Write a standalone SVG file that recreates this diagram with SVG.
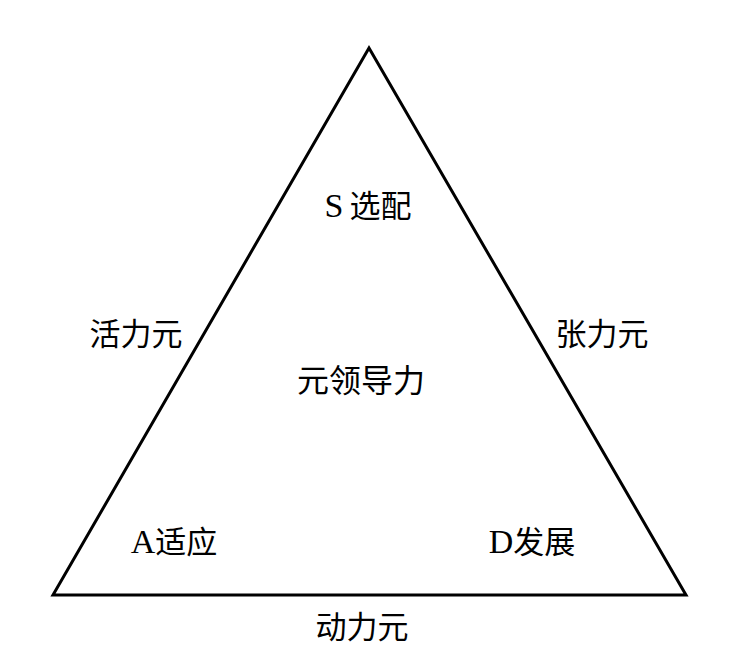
<svg xmlns="http://www.w3.org/2000/svg" width="741" height="645" viewBox="0 0 741 645">
<style>
.t{font-family:"Liberation Serif","Noto Sans CJK SC",serif;font-size:31px;fill:#000;text-anchor:middle}
.l{font-size:34px}
.edge{fill:none;stroke:#000;stroke-width:3;stroke-linejoin:miter}
</style>
<rect width="741" height="645" fill="#fff"/>
<g id="connectors">
<polygon class="edge" points="369,48 53,595 686,595"/>
</g>
<g id="node-s"><text class="t" x="368" y="217"><tspan class="l">S</tspan><tspan dx="6">选配</tspan></text></g>
<g id="node-left"><text class="t" x="136" y="345">活力元</text></g>
<g id="node-right"><text class="t" x="602" y="345">张力元</text></g>
<g id="node-center"><text class="t" x="361" y="392" style="font-size:32px">元领导力</text></g>
<g id="node-a"><text class="t" x="174" y="553"><tspan class="l">A</tspan>适应</text></g>
<g id="node-d"><text class="t" x="532" y="553"><tspan class="l">D</tspan>发展</text></g>
<g id="node-bottom"><text class="t" x="362" y="638">动力元</text></g>
</svg>
